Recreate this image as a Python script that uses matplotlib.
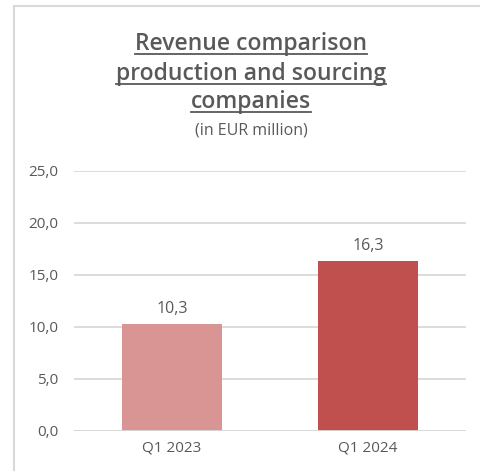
import matplotlib
matplotlib.use("Agg")
import matplotlib.pyplot as plt
from matplotlib.lines import Line2D

categories = ["Q1 2023", "Q1 2024"]
values = [10.3, 16.3]
value_labels = ["10,3", "16,3"]
yticks = [0, 5, 10, 15, 20, 25]
ytick_labels = ["0,0", "5,0", "10,0", "15,0", "20,0", "25,0"]
title_lines = ["Revenue comparison", "production and sourcing", "companies"]
subtitle = "(in EUR million)"

bar_colors = ["#D99594", "#C0504D"]
text_color = "#595959"
grid_color = "#D9D9D9"
FONT = "Open Sans"

W, H = 481, 471
fig = plt.figure(figsize=(W / 100, H / 100), dpi=100)
fig.patch.set_facecolor("white")

# outer frame (left and top edges visible)
fig.add_artist(Line2D([14 / W, 14 / W], [0, 1 - 6 / H], transform=fig.transFigure,
                      color=grid_color, lw=1.5))
fig.add_artist(Line2D([14 / W, 1], [1 - 6 / H, 1 - 6 / H], transform=fig.transFigure,
                      color=grid_color, lw=1.5))

ax = fig.add_axes([74 / W, 1 - 430.7 / H, (466 - 74) / W, (430.7 - 170.7) / H])
x = range(len(categories))
bars = ax.bar(x, values, width=0.51, color=bar_colors, zorder=3)
ax.set_xlim(-0.5, len(categories) - 0.5)
ax.set_ylim(0, 25)
ax.set_yticks(yticks)
ax.set_yticklabels(ytick_labels, fontfamily=FONT, fontsize=11, color=text_color)
ax.set_xticks(list(x))
ax.set_xticklabels(categories, fontfamily=FONT, fontsize=11, color=text_color)
ax.tick_params(axis="y", length=0, pad=11)
ax.tick_params(axis="x", length=0, pad=7)
ax.yaxis.grid(True, color=grid_color, lw=1.3, zorder=0)
for s in ax.spines.values():
    s.set_visible(False)
ax.axhline(0, color=grid_color, lw=1.3, zorder=4)

for xi, v, lab in zip(x, values, value_labels):
    ax.annotate(lab, (xi, v), xytext=(0, 5), textcoords="offset points",
                ha="center", va="bottom", fontfamily=FONT, fontsize=11.5, color=text_color)

# title with underline
cx = 251 / W
title_y = [44, 74, 102]
fig.canvas.draw()
renderer = fig.canvas.get_renderer()
for line, yc in zip(title_lines, title_y):
    t = fig.text(cx, 1 - yc / H, line, ha="center", va="center", fontfamily=FONT,
                 fontsize=16.5, fontweight="semibold", color=text_color)
    bb = t.get_window_extent(renderer=renderer)
    x0, x1 = bb.x0 / (W), bb.x1 / (W)
    uy = 1 - (yc + 10) / H
    fig.add_artist(Line2D([x0, x1], [uy, uy], transform=fig.transFigure,
                          color=text_color, lw=1.3))
fig.text(cx, 1 - 131 / H, subtitle, ha="center", va="center", fontfamily=FONT,
         fontsize=11.5, color=text_color)

fig.savefig("out.png", dpi=100)
